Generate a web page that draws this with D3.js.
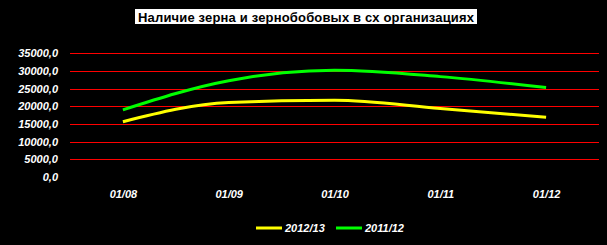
<!DOCTYPE html>
<html>
<head>
<meta charset="utf-8">
<script src="https://cdn.jsdelivr.net/npm/d3@7"></script>
<style>
  body { margin: 0; background: #000; }
  text { font-family: "Liberation Sans", Arial, sans-serif; }
</style>
</head>
<body>
<div id="chart"></div>
<script>
var months = ["01/08", "01/09", "01/10", "01/11", "01/12"];
var vals1213 = [15650, 21100, 21700, 19400, 16900];
var vals1112 = [19000, 27250, 30200, 28400, 25300];
var yTicks = [0, 5000, 10000, 15000, 20000, 25000, 30000, 35000];
var seriesNames = ["2012/13", "2011/12"];
var seriesColors = ["#ffff00", "#00ff00"];

var W = 607, H = 245;
var svg = d3.select("#chart").append("svg")
	.attr("width", W)
	.attr("height", H);

svg.append("rect")
	.attr("width", W).attr("height", H)
	.attr("fill", "#000");

// title with white box
svg.append("rect")
	.attr("x", 135).attr("y", 9)
	.attr("width", 342).attr("height", 15)
	.attr("fill", "#fff");
svg.append("text")
	.attr("x", 306).attr("y", 21.5)
	.attr("text-anchor", "middle")
	.attr("font-size", 13)
	.attr("font-weight", "bold")
	.attr("fill", "#000")
	.attr("textLength", 336)
	.text("Наличие зерна и зернобобовых в сх организациях");

var x = d3.scalePoint().domain(months).range([70, 599]).padding(0.5);
var y = d3.scaleLinear().domain([0, 35000]).range([177, 53.3]);

// gridlines
svg.selectAll("line.grid")
	.data(yTicks.filter(function (d) { return d > 0; }))
	.enter()
	.append("line")
	.attr("class", "grid")
	.attr("x1", 70).attr("x2", 599)
	.attr("y1", function (d) { return Math.round(y(d)) + 0.5; })
	.attr("y2", function (d) { return Math.round(y(d)) + 0.5; })
	.attr("stroke", "#ff0000")
	.attr("stroke-width", 1)
	.attr("shape-rendering", "crispEdges");

// y axis labels
var fmt = function (d) { return d.toFixed(1).replace(".", ","); };
svg.append("g")
	.attr("transform", "translate(70,0)")
	.call(d3.axisLeft(y).tickValues(yTicks).tickFormat(fmt).tickSize(0).tickPadding(12))
	.call(function (g) { g.select(".domain").remove(); })
	.selectAll("text")
	.attr("fill", "#fff")
	.attr("font-size", 11)
	.attr("font-weight", "bold")
	.attr("font-style", "italic")
	.attr("font-family", "Liberation Sans, Arial, sans-serif");

// x axis labels
svg.append("g")
	.attr("transform", "translate(0,177)")
	.call(d3.axisBottom(x).tickSize(0).tickPadding(13))
	.call(function (g) { g.select(".domain").remove(); })
	.selectAll("text")
	.attr("fill", "#fff")
	.attr("font-size", 11)
	.attr("font-weight", "bold")
	.attr("font-style", "italic")
	.attr("font-family", "Liberation Sans, Arial, sans-serif");

var line = d3.line()
	.x(function (d, i) { return x(months[i]); })
	.y(function (d) { return y(d); })
	.curve(d3.curveMonotoneX);

var allSeries = [vals1112, vals1213];
var colorsOrder = [seriesColors[1], seriesColors[0]];
svg.selectAll("path.series")
	.data(allSeries)
	.enter()
	.append("path")
	.attr("class", "series")
	.attr("d", line)
	.attr("fill", "none")
	.attr("stroke", function (d, i) { return colorsOrder[i]; })
	.attr("stroke-width", 3);

// legend
var legendX = [256, 336];
var legend = svg.selectAll("g.legend")
	.data(seriesNames)
	.enter()
	.append("g")
	.attr("class", "legend")
	.attr("transform", function (d, i) { return "translate(" + legendX[i] + ",228)"; });
legend.append("line")
	.attr("x1", 0).attr("x2", 26)
	.attr("y1", 0).attr("y2", 0)
	.attr("stroke", function (d, i) { return seriesColors[i]; })
	.attr("stroke-width", 3);
legend.append("text")
	.attr("x", 29).attr("y", 4)
	.attr("fill", "#fff")
	.attr("font-size", 11)
	.attr("font-weight", "bold")
	.attr("font-style", "italic")
	.text(function (d) { return d; });
</script>
</body>
</html>
